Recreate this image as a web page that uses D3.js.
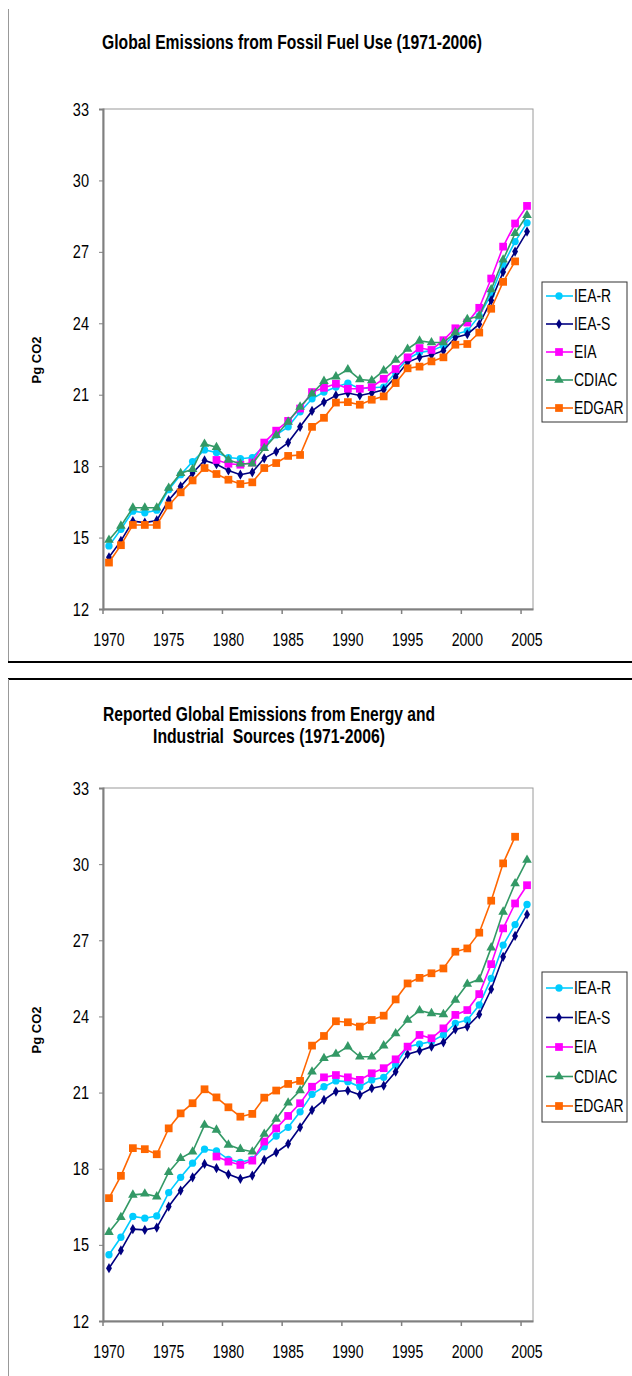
<!DOCTYPE html>
<html>
<head>
<meta charset="utf-8">
<script src="https://cdn.jsdelivr.net/npm/d3@7/dist/d3.min.js"></script>
<style>
  html, body { margin: 0; padding: 0; background: #fff; }
  svg { display: block; }
  text { font-family: "Liberation Sans", Arial, sans-serif; fill: #000; }
</style>
</head>
<body>
<svg id="chart" width="632" height="1376"></svg>
<script>
// ---------------- DATA ----------------
const years = [1970,1971,1972,1973,1974,1975,1976,1977,1978,1979,1980,1981,1982,1983,1984,1985,1986,1987,1988,1989,1990,1991,1992,1993,1994,1995,1996,1997,1998,1999,2000,2001,2002,2003,2004,2005];
const yTicks = [12,15,18,21,24,27,30,33];
const xTickYears = [1970,1975,1980,1985,1990,1995,2000,2005];
const seriesNames = ["IEA-R","IEA-S","EIA","CDIAC","EDGAR"];

const title1 = ["Global Emissions from Fossil Fuel Use (1971-2006)"];
const title2 = ["Reported Global Emissions from Energy and", "Industrial  Sources (1971-2006)"];
const yLabel = "Pg CO2";

// Chart 1: fossil fuel use
const fossil_IEA_R = [14.65,15.35,16.11,16.04,16.15,17.01,17.64,18.19,18.68,18.57,18.36,18.31,18.36,18.85,19.31,19.65,20.28,20.83,21.11,21.32,21.49,21.25,21.29,21.32,21.94,22.5,22.78,22.85,23.06,23.54,23.68,24.31,25.21,26.46,27.43,28.22];
const fossil_IEA_S = [14.17,14.86,15.69,15.63,15.72,16.57,17.15,17.71,18.24,18.08,17.82,17.64,17.74,18.33,18.61,18.99,19.65,20.32,20.69,20.97,21.07,20.97,21.07,21.21,21.74,22.36,22.57,22.67,22.85,23.4,23.54,23.96,24.96,26.15,27.01,27.85];
const fossil_EIA = [null,null,null,null,null,null,null,null,null,18.26,18.1,18.06,18.15,18.99,19.49,19.9,20.42,21.11,21.29,21.46,21.25,21.25,21.32,21.67,22.08,22.57,22.96,22.88,23.29,23.79,24.03,24.65,25.88,27.22,28.19,28.93];
const fossil_CDIAC = [14.9,15.49,16.25,16.25,16.25,17.08,17.7,17.87,18.93,18.79,18.26,18.1,18.1,18.75,19.3,19.86,20.49,21.04,21.57,21.76,22.06,21.64,21.6,22.01,22.46,22.92,23.26,23.19,23.19,23.61,24.17,24.31,25.42,26.67,27.78,28.54];
const fossil_EDGAR = [13.95,14.68,15.53,15.53,15.53,16.35,16.9,17.4,17.92,17.67,17.43,17.25,17.32,17.92,18.13,18.43,18.47,19.65,20.03,20.67,20.69,20.58,20.79,20.93,21.49,22.11,22.18,22.4,22.57,23.1,23.13,23.61,24.61,25.74,26.6,null];

// Chart 2: energy and industrial sources
const energy_IEA_R = [14.61,15.3,16.12,16.05,16.14,17.06,17.66,18.22,18.77,18.7,18.37,18.25,18.37,18.87,19.29,19.63,20.24,20.93,21.23,21.46,21.43,21.23,21.5,21.6,22.09,22.81,22.91,23.01,23.27,23.73,23.86,24.45,25.5,26.81,27.62,28.41];
const energy_IEA_S = [14.08,14.78,15.62,15.59,15.68,16.51,17.14,17.66,18.19,18.02,17.78,17.6,17.73,18.35,18.64,18.98,19.63,20.31,20.71,21.04,21.08,20.91,21.17,21.27,21.82,22.51,22.65,22.81,22.98,23.49,23.6,24.08,25.07,26.35,27.17,28.02];
const energy_EIA = [null,null,null,null,null,null,null,null,null,18.48,18.28,18.15,18.32,19.07,19.59,20.08,20.58,21.23,21.6,21.69,21.6,21.5,21.76,21.96,22.31,22.81,23.27,23.14,23.53,24.06,24.25,24.88,26.06,27.47,28.45,29.17];
const energy_CDIAC = [15.5,16.09,16.97,17.01,16.9,17.86,18.41,18.67,19.72,19.53,18.94,18.77,18.67,19.37,19.96,20.6,21.08,21.82,22.35,22.52,22.81,22.41,22.41,22.85,23.33,23.86,24.23,24.12,24.08,24.65,25.28,25.46,26.71,28.12,29.24,30.16];
const energy_EDGAR = [16.84,17.72,18.81,18.77,18.57,19.59,20.18,20.58,21.13,20.81,20.42,20.05,20.16,20.8,21.08,21.34,21.46,22.85,23.23,23.81,23.77,23.6,23.86,24.03,24.67,25.3,25.52,25.7,25.89,26.55,26.68,27.3,28.56,30.03,31.08,null];

// ---------------- STYLE ----------------
const colors = {"IEA-R":"#00CCFF","IEA-S":"#000080","EIA":"#FF00FF","CDIAC":"#339966","EDGAR":"#FF6600"};
const shapes = {"IEA-R":d3.symbolCircle,"IEA-S":d3.symbolDiamond,"EIA":d3.symbolSquare,"CDIAC":d3.symbolTriangle,"EDGAR":d3.symbolSquare};
const sizes = {"IEA-R":42,"IEA-S":30,"EIA":60,"CDIAC":40,"EDGAR":60};

const svg = d3.select("#chart");

// frame lines
svg.append("line").attr("x1",8.5).attr("x2",8.5).attr("y1",9).attr("y2",662).attr("stroke","#999").attr("stroke-width",1);
svg.append("line").attr("x1",8).attr("x2",632).attr("y1",662).attr("y2",662).attr("stroke","#000").attr("stroke-width",2);
svg.append("line").attr("x1",8).attr("x2",632).attr("y1",679).attr("y2",679).attr("stroke","#000").attr("stroke-width",2);
svg.append("line").attr("x1",8.5).attr("x2",8.5).attr("y1",679).attr("y2",1376).attr("stroke","#999").attr("stroke-width",1);

function drawChart(cfg) {
  const g = svg.append("g");
  const x = d3.scaleBand().domain(years).range([cfg.left, cfg.right]).padding(0);
  const bw = x.bandwidth();
  const cx = d => x(d) + bw / 2;
  const y = d3.scaleLinear().domain([12, 33]).range([cfg.bottom, cfg.top]);

  // title
  cfg.title.forEach((t, i) => {
    g.append("text")
      .attr("transform", `translate(${cfg.titleX},${cfg.titleY + i * 22}) scale(1,1.2)`)
      .attr("text-anchor", "middle")
      .attr("font-size", 17).attr("font-weight", "bold")
      .style("white-space", "pre")
      .attr("textLength", cfg.titleLen[i]).attr("lengthAdjust", "spacingAndGlyphs")
      .text(t);
  });

  // plot border
  g.append("rect")
    .attr("x", cfg.left).attr("y", cfg.top)
    .attr("width", cfg.right - cfg.left).attr("height", cfg.bottom - cfg.top)
    .attr("fill", "none").attr("stroke", "#9a9a9a").attr("stroke-width", 1);

  // y axis
  const ya = g.append("g").attr("transform", `translate(${cfg.left},0)`)
    .call(d3.axisLeft(y).tickValues(yTicks).tickSize(4).tickFormat(d3.format("d")));
  ya.select(".domain").attr("stroke", "#808080").attr("stroke-width", 2);
  ya.selectAll(".tick line").attr("stroke", "#808080").attr("stroke-width", 1);
  ya.selectAll(".tick text")
    .attr("x", 0).attr("dy", null).attr("y", 0)
    .attr("transform", "translate(-14,6) scale(0.97,1.22)")
    .attr("font-size", 15).attr("font-family", '"Liberation Sans", Arial, sans-serif')
    .attr("fill", "#222");

  // x axis
  const xa = g.append("g").attr("transform", `translate(0,${cfg.bottom})`)
    .call(d3.axisBottom(x).tickValues(xTickYears).tickSize(5).tickSizeOuter(0));
  xa.select(".domain").attr("stroke", "#808080").attr("stroke-width", 2);
  xa.selectAll(".tick").attr("transform", d => `translate(${x(d)},0)`);
  xa.selectAll(".tick line").attr("stroke", "#808080").attr("stroke-width", 1.5);
  xa.selectAll(".tick text")
    .attr("y", 0).attr("dy", null)
    .attr("transform", `translate(${bw / 2},37) scale(0.94,1.25)`)
    .attr("font-size", 15).attr("font-family", '"Liberation Sans", Arial, sans-serif')
    .attr("fill", "#222");

  // y label
  g.append("text")
    .attr("transform", `translate(${cfg.yLabelX},${cfg.yLabelY}) rotate(-90)`)
    .attr("text-anchor", "middle").attr("font-size", 13).attr("font-weight", "bold")
    .text(yLabel);

  // series
  seriesNames.forEach((name, si) => {
    const vals = cfg.data[si];
    const pts = years.map((yr, i) => ({yr, v: vals[i]}));
    const line = d3.line().defined(d => d.v != null).x(d => cx(d.yr)).y(d => y(d.v));
    g.append("path").datum(pts).attr("d", line)
      .attr("fill", "none").attr("stroke", colors[name]).attr("stroke-width", 1.6);
    g.selectAll(null).data(pts.filter(d => d.v != null)).enter().append("path")
      .attr("d", d3.symbol().type(shapes[name]).size(sizes[name]))
      .attr("transform", d => `translate(${cx(d.yr)},${y(d.v)})`)
      .attr("fill", colors[name]);
  });

  // legend
  const lg = g.append("g");
  lg.append("rect").attr("x", cfg.legX).attr("y", cfg.legY).attr("width", 85).attr("height", cfg.legH)
    .attr("fill", "#fff").attr("stroke", "#333").attr("stroke-width", 1);
  seriesNames.forEach((name, i) => {
    const yy = cfg.legY + cfg.legFirst + i * cfg.legStep;
    lg.append("line").attr("x1", cfg.legX + 4).attr("x2", cfg.legX + 31).attr("y1", yy).attr("y2", yy)
      .attr("stroke", colors[name]).attr("stroke-width", 1.6);
    lg.append("path").attr("d", d3.symbol().type(shapes[name]).size(sizes[name]))
      .attr("transform", `translate(${cfg.legX + 17},${yy})`).attr("fill", colors[name]);
    lg.append("text").attr("transform", `translate(${cfg.legX + 32},${yy + 6}) scale(0.93,1.22)`)
      .attr("font-size", 15).text(name);
  });
}

drawChart({
  left: 103, right: 533, top: 109, bottom: 609,
  title: title1, titleX: 292, titleY: 49, titleLen: [380],
  yLabelX: 41, yLabelY: 360,
  legX: 542, legY: 282, legH: 140, legFirst: 14, legStep: 28,
  data: [fossil_IEA_R, fossil_IEA_S, fossil_EIA, fossil_CDIAC, fossil_EDGAR]
});

drawChart({
  left: 103, right: 533, top: 788, bottom: 1321,
  title: title2, titleX: 269, titleY: 721, titleLen: [332, 232],
  yLabelX: 41, yLabelY: 1030,
  legX: 542, legY: 972, legH: 150, legFirst: 16, legStep: 29.5,
  data: [energy_IEA_R, energy_IEA_S, energy_EIA, energy_CDIAC, energy_EDGAR]
});
</script>
</body>
</html>
